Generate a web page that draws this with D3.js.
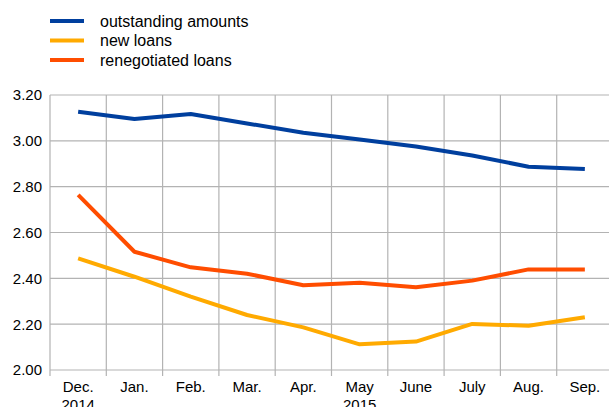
<!DOCTYPE html>
<html><head><meta charset="utf-8">
<script src="https://cdn.jsdelivr.net/npm/d3@7"></script>
<style>body{margin:0;background:#fff}svg{display:block;font-family:"Liberation Sans",Arial,sans-serif}</style>
</head><body><svg id="c" width="609" height="407"></svg>
<script>
const categories = [["Dec.","2014"],["Jan."],["Feb."],["Mar."],["Apr."],["May","2015"],["June"],["July"],["Aug."],["Sep."]];
const seriesNames = ["outstanding amounts","new loans","renegotiated loans"];
const seriesColors = ["#003f9e","#ffaa00","#ff4d00"];
const outstanding = [3.127,3.095,3.117,3.076,3.035,3.006,2.975,2.936,2.887,2.877];
const newLoans = [2.487,2.407,2.320,2.240,2.186,2.112,2.124,2.201,2.193,2.230];
const renegotiated = [2.764,2.516,2.448,2.420,2.370,2.381,2.361,2.390,2.439,2.439];
const yTicks = [2.0,2.2,2.4,2.6,2.8,3.0,3.2];

(function(){
const svg = d3.select("#c");
const mL = 50, mR = 613, mT = 95, mB = 370;
const x = d3.scaleBand().domain(d3.range(categories.length)).range([mL, mR]).padding(0);
const y = d3.scaleLinear().domain([2.0, 3.2]).range([mB, mT]);
const grid = "#b3b3b3";

svg.append("g").selectAll("line").data(yTicks).join("line")
  .attr("x1", mL).attr("x2", mR).attr("y1", d => y(d)).attr("y2", d => y(d))
  .attr("stroke", grid).attr("stroke-width", 1.2);
const bounds = d3.range(categories.length + 1).map(i => mL + i * x.bandwidth());
svg.append("g").selectAll("line").data(bounds).join("line")
  .attr("x1", d => d).attr("x2", d => d).attr("y1", mT).attr("y2", mB + 6)
  .attr("stroke", grid).attr("stroke-width", 1.2);

svg.append("g").selectAll("text").data(yTicks).join("text")
  .attr("x", 42).attr("y", d => y(d)).attr("dy", "0.36em")
  .attr("text-anchor", "end").attr("font-size", 15).attr("fill", "#000")
  .text(d => d.toFixed(2));

const xl = svg.append("g").selectAll("text").data(categories).join("text")
  .attr("x", (d, i) => x(i) + x.bandwidth() / 2).attr("y", 392)
  .attr("text-anchor", "middle").attr("font-size", 15).attr("fill", "#000");
xl.selectAll("tspan").data(d => d).join("tspan")
  .attr("x", function(){ return this.parentNode.getAttribute("x"); })
  .attr("dy", (d, j) => j === 0 ? 0 : 18).text(d => d);

const data = [outstanding, newLoans, renegotiated];
const line = d3.line().x((d, i) => x(i) + x.bandwidth() / 2).y(d => y(d));
svg.append("g").selectAll("path").data(data).join("path")
  .attr("d", line).attr("fill", "none")
  .attr("stroke", (d, i) => seriesColors[i]).attr("stroke-width", 4)
  .attr("stroke-linejoin", "round");

const lg = svg.append("g").selectAll("g").data(seriesNames).join("g")
  .attr("transform", (d, i) => `translate(0,${21 + i * 19.5})`);
lg.append("line").attr("x1", 50).attr("x2", 84).attr("y1", 0).attr("y2", 0)
  .attr("stroke", (d, i) => seriesColors[i]).attr("stroke-width", 4);
lg.append("text").attr("x", 100).attr("y", 0).attr("dy", "0.36em")
  .attr("font-size", 16).attr("fill", "#000").text(d => d);
})();
</script></body></html>
